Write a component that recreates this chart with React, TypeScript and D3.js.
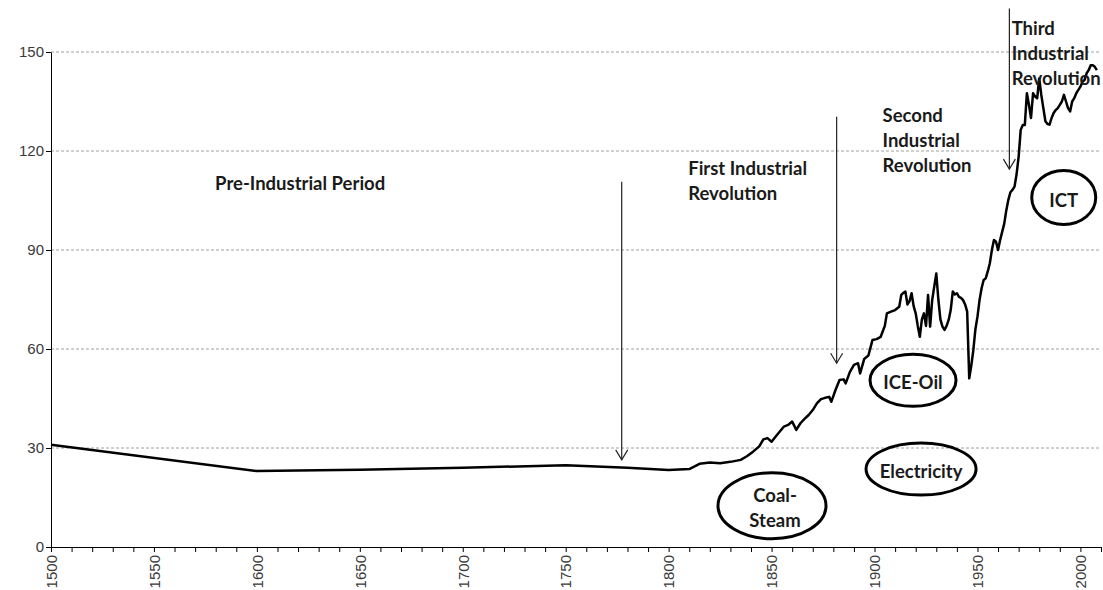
import React, { useEffect, useRef } from 'react';
import * as d3 from 'd3';

const WIDTH = 1103;
const HEIGHT = 590;

// sparse estimates before the industrial era
const earlyYears = [
  1500, 1600, 1650, 1700, 1750, 1780, 1800, 1810, 1815, 1820,
  1825, 1830, 1835, 1838, 1841, 1844, 1846, 1848, 1850, 1852,
  1854, 1856, 1858, 1860, 1862, 1864, 1866, 1868, 1870, 1872,
  1874, 1876, 1878, 1879, 1881, 1883, 1885, 1886, 1888, 1890,
  1892, 1893, 1895, 1897, 1899, 1901, 1903, 1905, 1906, 1908,
  1910, 1912
];
const earlyValues = [
  31, 23, 23.4, 24, 24.8, 24, 23.3, 23.6, 25.2, 25.6,
  25.4, 25.8, 26.4, 27.5, 28.9, 30.5, 32.6, 33, 31.9, 33.5,
  35, 36.5, 37, 38, 35.5, 37.5, 38.8, 40, 41.5, 43.5,
  44.8, 45.2, 45.5, 44, 47.5, 50.6, 50.8, 49.6, 53, 55.2,
  55.7, 52.6, 57, 58, 62.7, 63, 63.7, 67, 70.8, 71.3,
  71.8, 72.8
];

// annual series 1913-2008
const annualYears = [
  1913, 1914, 1915, 1916, 1917, 1918, 1919, 1920, 1921, 1922,
  1923, 1924, 1925, 1926, 1927, 1928, 1929, 1930, 1931, 1932,
  1933, 1934, 1935, 1936, 1937, 1938, 1939, 1940, 1941, 1942,
  1943, 1944, 1945, 1946, 1947, 1948, 1949, 1950, 1951, 1952,
  1953, 1954, 1955, 1956, 1957, 1958, 1959, 1960, 1961, 1962,
  1963, 1964, 1965, 1966, 1967, 1968, 1969, 1970, 1971, 1972,
  1973, 1974, 1975, 1976, 1977, 1978, 1979, 1980, 1981, 1982,
  1983, 1984, 1985, 1986, 1987, 1988, 1989, 1990, 1991, 1992,
  1993, 1994, 1995, 1996, 1997, 1998, 1999, 2000, 2001, 2002,
  2003, 2004, 2005, 2006, 2007, 2008
];
const annualValues = [
  76.4, 77, 77.4, 73.5, 74.5, 76.9, 73, 70.8, 67, 63.7,
  69, 70.8, 67, 76.4, 66.8, 74.8, 78.9, 82.9, 75, 69,
  66.8, 65.8, 67, 68.8, 71.8, 77.4, 76.5, 76.9, 75.8, 75.5,
  74.8, 73.5, 71.3, 51.1, 55, 59.7, 66, 69.8, 74.8, 78.4,
  80.9, 81.4, 83.5, 86, 90, 93, 92.5, 90, 93, 95.5,
  98, 102, 105.2, 107.5, 108.2, 109.2, 113, 118.3, 126.4, 127.9,
  127.9, 137.5, 134, 130, 137.5, 136.5, 136, 142, 137, 133,
  129, 128.2, 128, 130, 131.5, 132.4, 133, 134, 135, 137,
  135, 133, 132, 135, 136, 137.5, 138.5, 139.5, 141, 141.5,
  143.5, 144.5, 146, 146, 145.5, 144.5
];

const yTicks = [0, 30, 60, 90, 120, 150];
const xMinorTicks = d3.range(1500, 2011, 10);

const periodLabels = [
  { lines: ['Pre-Industrial Period'], year: 1579.7, value: 108.2 },
  { lines: ['First Industrial', 'Revolution'], year: 1809.5, value: 112.7 },
  { lines: ['Second', 'Industrial', 'Revolution'], year: 1903.9, value: 128.9 },
  { lines: ['Third', 'Industrial', 'Revolution'], year: 1966.6, value: 155.2 }
];

const arrows = [
  { year: 1777.2, from: 110.7, to: 26.4 },
  { year: 1881.6, from: 130.4, to: 55.7 },
  { year: 1965.5, from: 163.2, to: 114.5 }
];

const technologies = [
  { lines: ['Coal-', 'Steam'], year: 1850.2, value: 12.5, rx: 54, ry: 33 },
  { lines: ['ICE-Oil'], year: 1918.7, value: 50.5, rx: 43, ry: 26 },
  { lines: ['Electricity'], year: 1922.6, value: 23.6, rx: 55, ry: 26 },
  { lines: ['ICT'], year: 1991.9, value: 105.9, rx: 32, ry: 27 }
];

const App: React.FC = () => {
  const svgRef = useRef<SVGSVGElement>(null);

  useEffect(() => {
    if (!svgRef.current) return;
    const svg = d3.select(svgRef.current);
    svg.selectAll('*').remove();

    const x = d3.scaleLinear().domain([1500, 2010]).range([51, 1101]);
    const y = d3.scaleLinear().domain([0, 150]).range([547, 52]);

    const series = [
      ...earlyYears.map((yr, i) => ({ year: yr, value: earlyValues[i] })),
      ...annualYears.map((yr, i) => ({ year: yr, value: annualValues[i] }))
    ];

    const axisFont = '"Liberation Sans", Arial, sans-serif';
    const labelFont = 'Lato, "Open Sans", sans-serif';

    // gridlines
    svg.append('g')
      .selectAll('line')
      .data(yTicks.filter(t => t > 0))
      .enter()
      .append('line')
      .attr('x1', x(1500))
      .attr('x2', x(2010))
      .attr('y1', d => y(d))
      .attr('y2', d => y(d))
      .attr('stroke', '#a0a0a0')
      .attr('stroke-width', 1)
      .attr('stroke-dasharray', '3,2');

    // y axis
    const yAxis = svg.append('g')
      .attr('transform', `translate(${x(1500)},0)`)
      .call(d3.axisLeft(y).tickValues(yTicks).tickSize(5).tickSizeOuter(0));
    yAxis.select('.domain').attr('stroke', '#000');
    yAxis.selectAll('.tick line').attr('stroke', '#000');
    yAxis.selectAll('text')
      .attr('x', -7)
      .style('font-family', axisFont)
      .style('font-size', '15px')
      .style('fill', '#3a3a3a');

    // x axis
    const xAxis = svg.append('g')
      .attr('transform', `translate(0,${y(0)})`)
      .call(
        d3.axisBottom(x)
          .tickValues(xMinorTicks)
          .tickSize(5)
          .tickSizeOuter(0)
          .tickFormat(d => ((d as number) % 50 === 0 && (d as number) <= 2000 ? String(d) : ''))
      );
    xAxis.select('.domain').attr('stroke', '#000');
    xAxis.selectAll('.tick line').attr('stroke', '#000');
    xAxis.selectAll('text')
      .attr('transform', 'rotate(-90)')
      .attr('x', -8)
      .attr('y', 0)
      .attr('dy', '0.35em')
      .style('text-anchor', 'end')
      .style('font-family', axisFont)
      .style('font-size', '15px')
      .style('fill', '#3a3a3a');

    // main series
    const line = d3.line<{ year: number; value: number }>()
      .x(d => x(d.year))
      .y(d => y(d.value));

    svg.append('path')
      .datum(series)
      .attr('d', line)
      .attr('fill', 'none')
      .attr('stroke', '#000')
      .attr('stroke-width', 2.5)
      .attr('stroke-linejoin', 'round');

    // arrows
    const arrowG = svg.append('g').attr('stroke', '#222').attr('fill', 'none');
    arrows.forEach(a => {
      const ax = x(a.year);
      const y1 = y(a.from);
      const y2 = y(a.to);
      arrowG.append('line')
        .attr('x1', ax).attr('x2', ax)
        .attr('y1', y1).attr('y2', y2)
        .attr('stroke-width', 1.2);
      arrowG.append('path')
        .attr('d', `M${ax - 6},${y2 - 10}L${ax},${y2}L${ax + 6},${y2 - 10}`)
        .attr('stroke-width', 1.2);
    });

    // period labels
    periodLabels.forEach(p => {
      const t = svg.append('text')
        .attr('x', x(p.year))
        .attr('y', y(p.value))
        .style('font-family', labelFont)
        .style('font-weight', 'bold')
        .style('font-size', '18.5px')
        .style('fill', '#1a1a1a');
      p.lines.forEach((ln, i) => {
        t.append('tspan')
          .attr('x', x(p.year))
          .attr('dy', i === 0 ? 0 : 25)
          .text(ln);
      });
    });

    // technology ellipses
    technologies.forEach(tch => {
      const cx = x(tch.year);
      const cy = y(tch.value);
      svg.append('ellipse')
        .attr('cx', cx)
        .attr('cy', cy)
        .attr('rx', tch.rx)
        .attr('ry', tch.ry)
        .attr('fill', 'none')
        .attr('stroke', '#000')
        .attr('stroke-width', 3);
      const n = tch.lines.length;
      tch.lines.forEach((ln, i) => {
        svg.append('text')
          .attr('x', cx + (n > 1 ? 3 : 0))
          .attr('y', cy + 2 + (i - (n - 1) / 2) * 25)
          .attr('dominant-baseline', 'central')
          .attr('text-anchor', 'middle')
          .style('font-family', labelFont)
          .style('font-weight', 'bold')
          .style('font-size', '18.5px')
          .style('fill', '#1a1a1a')
          .text(ln);
      });
    });
  }, []);

  return (
    <svg
      ref={svgRef}
      width={WIDTH}
      height={HEIGHT}
      style={{ position: 'absolute', left: 0, top: 0, background: '#fff' }}
    />
  );
};

export default App;
